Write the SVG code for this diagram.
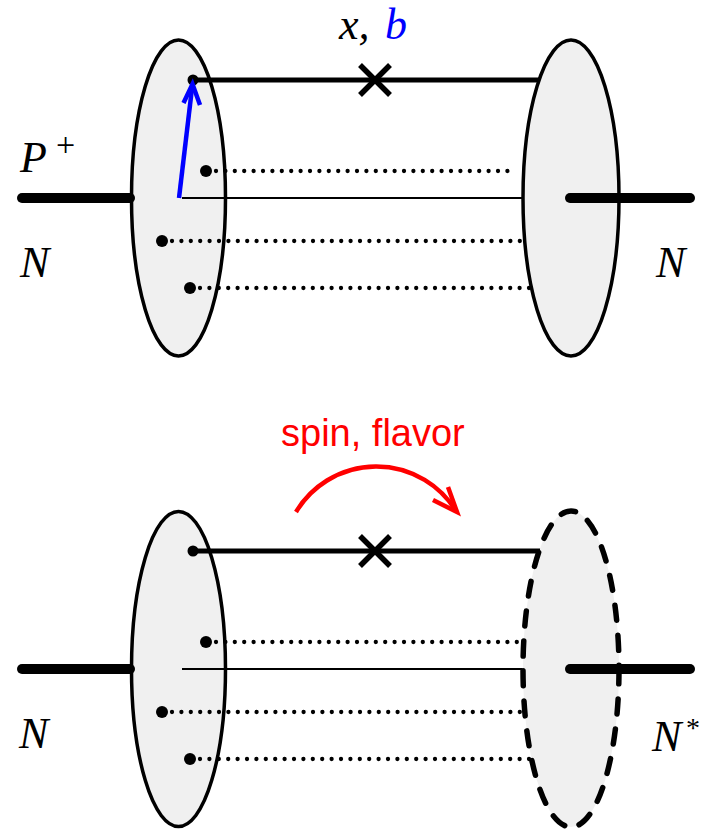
<svg xmlns="http://www.w3.org/2000/svg" width="701" height="829" viewBox="0 0 701 829">
<style>
.blob{fill:#f0f0f0;stroke:#000;stroke-width:3.5}
.dashblob{fill:#f0f0f0;stroke:#000;stroke-width:5.5;stroke-linecap:round;stroke-dasharray:15 15}
.bar{stroke:#000;stroke-width:10;stroke-linecap:round;fill:none}
.quark{stroke:#000;stroke-width:5;fill:none}
.thin{stroke:#000;stroke-width:2;fill:none}
.dot{stroke:#000;stroke-width:4.3;stroke-linecap:round;stroke-dasharray:0 9.4;fill:none}
.pt{fill:#000}
.cross{stroke:#000;stroke-width:5.5;fill:none}
.math{font-family:"Liberation Serif",serif;font-style:italic;font-size:44px;fill:#000}
.up{font-family:"Liberation Serif",serif;font-size:34px;fill:#000}
.red{font-family:"Liberation Sans",Arial,sans-serif;font-size:38px;fill:#ff0000}
</style>
<g id="top-left-nucleon">
<ellipse class="blob" cx="178.5" cy="198" rx="47" ry="158"/>
</g>
<g id="top-right-nucleon">
<ellipse class="blob" cx="571" cy="198" rx="48" ry="158"/>
</g>
<g id="bottom-left-nucleon">
<ellipse class="blob" cx="178.5" cy="669" rx="47" ry="157.5"/>
</g>
<g id="bottom-right-excited">
<ellipse class="dashblob" cx="571" cy="669" rx="48" ry="158"/>
</g>
<g id="connectors">
<line class="bar" x1="22" y1="198" x2="130" y2="198"/>
<line class="bar" x1="570" y1="198" x2="690" y2="198"/>
<line class="quark" x1="193" y1="80" x2="539" y2="80"/>
<line class="thin" x1="182" y1="198" x2="523" y2="198"/>
<line class="dot" x1="216" y1="171" x2="516" y2="171"/>
<line class="dot" x1="172" y1="241" x2="522" y2="241"/>
<line class="dot" x1="200" y1="288" x2="530" y2="288"/>
<circle class="pt" cx="193" cy="80" r="5.5"/>
<circle class="pt" cx="206" cy="171" r="6"/>
<circle class="pt" cx="162" cy="241" r="6"/>
<circle class="pt" cx="190" cy="288" r="6"/>
<path class="cross" d="M360,65 L390,95 M390,65 L360,95"/>
<g stroke="#0000ff" stroke-width="4.5" fill="none">
<line x1="179" y1="198" x2="192.5" y2="84"/>
<path d="M183.5,103 L192.5,84 L200,105"/>
</g>
<line class="bar" x1="22" y1="669" x2="130" y2="669"/>
<line class="bar" x1="570" y1="669" x2="690" y2="669"/>
<line class="quark" x1="193" y1="551" x2="540" y2="551"/>
<line class="thin" x1="182" y1="669" x2="522" y2="669"/>
<line class="dot" x1="216" y1="642" x2="518" y2="642"/>
<line class="dot" x1="172" y1="712" x2="522" y2="712"/>
<line class="dot" x1="200" y1="759" x2="530" y2="759"/>
<circle class="pt" cx="193" cy="551" r="5.5"/>
<circle class="pt" cx="206" cy="642" r="6"/>
<circle class="pt" cx="162" cy="712" r="6"/>
<circle class="pt" cx="190" cy="759" r="6"/>
<path class="cross" d="M360,536 L390,566 M390,536 L360,566"/>
<g stroke="#ff0000" stroke-width="4.5" fill="none">
<path d="M296,512 A93.6,93.6 0 0,1 456,511"/>
<path d="M433,500 L457,512 L448,487"/>
</g>
</g>
<g id="labels">
<text class="math" x="20" y="172">P</text>
<text class="up" x="56" y="156">+</text>
<text class="math" x="20" y="277">N</text>
<text class="math" x="656" y="277">N</text>
<text class="math" x="339" y="39">x,</text>
<text class="math" x="385" y="39" style="fill:#0000ff">b</text>
<text class="red" x="281" y="446">spin, flavor</text>
<text class="math" x="19" y="748">N</text>
<text class="math" x="652" y="751">N</text>
<text class="up" x="686" y="737" style="font-size:28px">*</text>
</g>
</svg>
